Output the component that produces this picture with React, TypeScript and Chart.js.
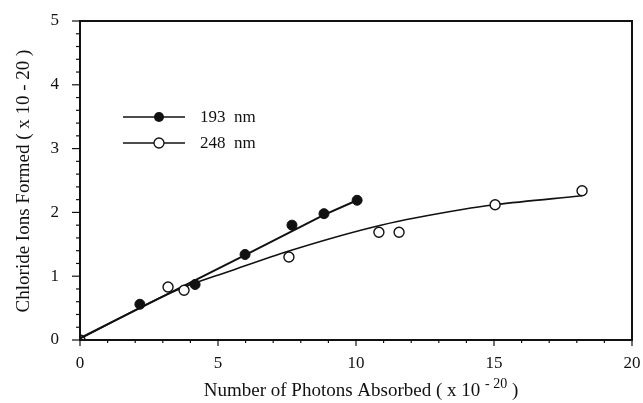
import React, { useEffect, useRef } from "react";
import { Chart, registerables } from "chart.js";

Chart.register(...registerables);

// 193 nm measured points
const x193 = [0, 2.17, 4.17, 5.98, 7.68, 8.84, 10.04];
const y193 = [0, 0.56, 0.87, 1.34, 1.8, 1.98, 2.19];
// 193 nm fitted line
const fitX193 = [0, 5.98, 8.84, 10.04];
const fitY193 = [0.03, 1.33, 1.96, 2.19];

// 248 nm measured points
const x248 = [0, 3.19, 3.77, 7.57, 10.83, 11.56, 15.04, 18.19];
const y248 = [0, 0.83, 0.78, 1.3, 1.69, 1.69, 2.12, 2.34];
// 248 nm fitted curve
const fitX248 = [0, 3.5, 5.5, 7.6, 10.9, 13.9, 15.04, 18.19];
const fitY248 = [0.02, 0.78, 1.09, 1.4, 1.8, 2.05, 2.12, 2.26];

const xTicks = [0, 5, 10, 15, 20];
const yTicks = [0, 1, 2, 3, 4, 5];
const legendLabels = ["193  nm", "248  nm"];
const yTitle = "Chloride Ions Formed ( x 10 - 20 )";
const xTitleMain = "Number of Photons Absorbed ( x 10 ";
const xTitleSup = "- 20";
const xTitleEnd = " )";

const FONT = "'Liberation Serif', 'Times New Roman', serif";

const pts = (xs: number[], ys: number[]) => xs.map((x, i) => ({ x, y: ys[i] }));

const decorPlugin = {
  id: "decor",
  afterDatasetsDraw(chart: any) {
    const { ctx, chartArea } = chart;
    const xs = chart.scales.x;
    const ys = chart.scales.y;
    const { left, right, top, bottom } = chartArea;
    ctx.save();
    ctx.strokeStyle = "#111";
    ctx.fillStyle = "#111";
    // box
    ctx.lineWidth = 2;
    ctx.strokeRect(left, top, right - left, bottom - top);
    // y ticks (outward)
    ctx.lineWidth = 1.2;
    for (let v = 0; v <= 5.0001; v += 0.2) {
      const py = ys.getPixelForValue(v);
      const major = Math.abs(v - Math.round(v)) < 0.01;
      ctx.beginPath();
      ctx.moveTo(left, py);
      ctx.lineTo(left - (major ? 8 : 4), py);
      ctx.stroke();
    }
    // x ticks (outward)
    for (let v = 0; v <= 20; v += 1) {
      const px = xs.getPixelForValue(v);
      const major = v % 5 === 0;
      ctx.beginPath();
      ctx.moveTo(px, bottom);
      ctx.lineTo(px, bottom + (major ? 6 : 3));
      ctx.stroke();
    }
    // legend
    const items = [
      { y: top + 96, filled: true },
      { y: top + 122, filled: false },
    ];
    items.forEach((it, i) => {
      ctx.lineWidth = 1.5;
      ctx.strokeStyle = "#111";
      ctx.beginPath();
      ctx.moveTo(left + 43, it.y);
      ctx.lineTo(left + 105, it.y);
      ctx.stroke();
      ctx.beginPath();
      ctx.arc(left + 79, it.y, 5, 0, Math.PI * 2);
      if (it.filled) {
        ctx.fillStyle = "#111";
        ctx.fill();
      } else {
        ctx.fillStyle = "#fff";
        ctx.fill();
        ctx.lineWidth = 1.3;
        ctx.stroke();
      }
      ctx.fillStyle = "#111";
      ctx.font = `17px ${FONT}`;
      ctx.textAlign = "left";
      ctx.textBaseline = "middle";
      ctx.fillText(legendLabels[i], left + 120, it.y + 1);
    });
    // y title
    ctx.save();
    ctx.translate(24, 181);
    ctx.rotate(-Math.PI / 2);
    ctx.font = `19px ${FONT}`;
    ctx.textAlign = "center";
    ctx.textBaseline = "middle";
    ctx.fillStyle = "#111";
    ctx.fillText(yTitle, 0, 0);
    ctx.restore();
    // x title with superscript
    ctx.font = `19px ${FONT}`;
    const w1 = ctx.measureText(xTitleMain).width;
    ctx.font = `14px ${FONT}`;
    const w2 = ctx.measureText(xTitleSup).width;
    ctx.font = `19px ${FONT}`;
    const w3 = ctx.measureText(xTitleEnd).width;
    const total = w1 + w2 + w3;
    let sx = 361 - total / 2;
    const base = 396;
    ctx.textAlign = "left";
    ctx.textBaseline = "alphabetic";
    ctx.fillText(xTitleMain, sx, base);
    sx += w1;
    ctx.font = `14px ${FONT}`;
    ctx.fillText(xTitleSup, sx, base - 8);
    sx += w2;
    ctx.font = `19px ${FONT}`;
    ctx.fillText(xTitleEnd, sx, base);
    ctx.restore();
  },
};

const zeroPad = (s: any) => {
  s.paddingTop = 0;
  s.paddingBottom = 0;
  s.paddingLeft = 0;
  s.paddingRight = 0;
};

export default function App() {
  const ref = useRef<HTMLCanvasElement | null>(null);
  useEffect(() => {
    if (!ref.current) return;
    const chart = new Chart(ref.current, {
      type: "scatter",
      data: {
        datasets: [
          {
            label: "193 nm",
            data: pts(x193, y193),
            showLine: false,
            pointRadius: x193.map((x) => (x === 0 ? 0 : 5)),
            pointBackgroundColor: "#111",
            pointBorderColor: "#111",
            pointBorderWidth: 1,
            order: 1,
          },
          {
            label: "248 nm",
            data: pts(x248, y248),
            showLine: false,
            pointRadius: 5,
            pointBackgroundColor: x248.map((x) => (x === 0 ? "rgba(0,0,0,0)" : "#fff")),
            pointBorderColor: "#111",
            pointBorderWidth: 1.4,
            order: 2,
          },
          {
            label: "193 fit",
            data: pts(fitX193, fitY193),
            showLine: true,
            pointRadius: 0,
            borderColor: "#111",
            borderWidth: 2,
            order: 3,
          },
          {
            label: "248 fit",
            data: pts(fitX248, fitY248),
            showLine: true,
            pointRadius: 0,
            borderColor: "#111",
            borderWidth: 1.6,
            cubicInterpolationMode: "monotone",
            order: 4,
          },
        ],
      },
      options: {
        animation: false,
        responsive: false,
        maintainAspectRatio: false,
        layout: { padding: { top: 21, right: 11, left: 0, bottom: 0 } },
        plugins: { legend: { display: false }, tooltip: { enabled: false } },
        scales: {
          x: {
            type: "linear",
            min: 0,
            max: 20,
            grid: { display: false, drawTicks: false },
            border: { display: false },
            afterBuildTicks: (s: any) => {
              s.ticks = xTicks.map((v) => ({ value: v }));
            },
            afterFit: (s: any) => {
              s.height = 63;
              zeroPad(s);
            },
            ticks: {
              padding: 13,
              color: "#111",
              font: { family: FONT, size: 17 },
              maxRotation: 0,
            },
          },
          y: {
            type: "linear",
            min: 0,
            max: 5,
            grid: { display: false, drawTicks: false },
            border: { display: false },
            afterBuildTicks: (s: any) => {
              s.ticks = yTicks.map((v) => ({ value: v }));
            },
            afterFit: (s: any) => {
              s.width = 80;
              zeroPad(s);
            },
            ticks: {
              padding: 21,
              color: "#111",
              font: { family: FONT, size: 17 },
            },
          },
        },
      },
      plugins: [decorPlugin],
    } as any);
    return () => chart.destroy();
  }, []);
  return (
    <div style={{ position: "fixed", left: 0, top: 0, width: 643, height: 403, background: "#fff" }}>
      <canvas ref={ref} width={643} height={403} style={{ display: "block" }} />
    </div>
  );
}
